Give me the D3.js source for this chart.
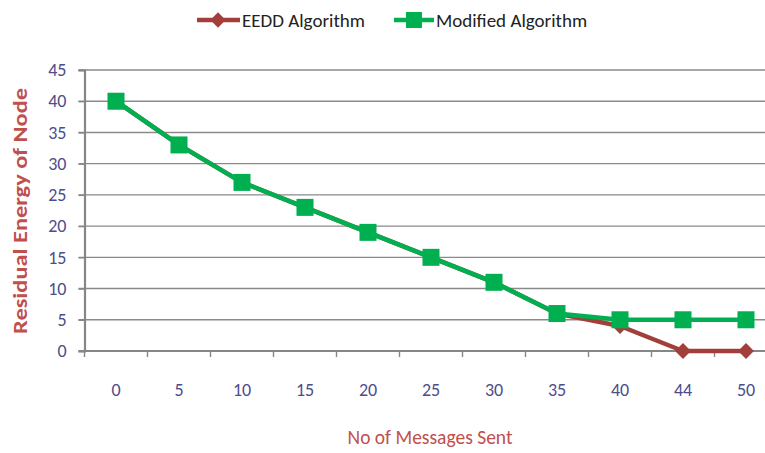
<!DOCTYPE html>
<html>
<head>
<meta charset="utf-8">
<script src="https://cdn.jsdelivr.net/npm/d3@7"></script>
<style>
  body { margin: 0; background: #fff; }
  text { font-family: Carlito, "Liberation Sans Narrow", Lato, sans-serif; }
</style>
</head>
<body>
<script>
const categories = ["0", "5", "10", "15", "20", "25", "30", "35", "40", "44", "50"];
const eeddValues = [40, 33, 27, 23, 19, 15, 11, 6, 4, 0, 0];
const modifiedValues = [40, 33, 27, 23, 19, 15, 11, 6, 5, 5, 5];
const yTicks = [0, 5, 10, 15, 20, 25, 30, 35, 40, 45];

const width = 765, height = 453;
const plot = {left: 84.5, right: 777.5, top: 70, bottom: 351};

const svg = d3.select("body")
  .append("svg")
    .attr("width", width)
    .attr("height", height);

const x = d3.scaleBand()
    .domain(categories)
    .range([plot.left, plot.right])
    .padding(0);

const y = d3.scaleLinear()
    .domain([0, 45])
    .range([plot.bottom, plot.top]);

// gridlines
svg.append("g")
  .selectAll("line")
  .data(yTicks.filter(d => d > 0))
  .enter()
  .append("line")
    .attr("x1", plot.left - 6)
    .attr("x2", width)
    .attr("y1", d => y(d))
    .attr("y2", d => y(d))
    .attr("stroke", "#8a8a8a")
    .attr("stroke-width", 1.4);

// y axis
const yAxis = svg.append("g")
    .attr("transform", "translate(" + plot.left + ",0)")
    .call(d3.axisLeft(y).tickValues(yTicks).tickSize(6).tickPadding(12));
yAxis.select(".domain").attr("stroke", "#868686").attr("stroke-width", 2.2);
yAxis.selectAll(".tick line").attr("stroke", "#868686").attr("stroke-width", 1.4);
yAxis.selectAll(".tick text")
    .attr("fill", "#4d4d8a")
    .style("font-size", "18px");

// x axis, ticks between categories
const xAxis = svg.append("g")
    .attr("transform", "translate(0," + plot.bottom + ")");
xAxis.append("line")
    .attr("x1", plot.left - 6)
    .attr("x2", width)
    .attr("stroke", "#868686")
    .attr("stroke-width", 2.2);
xAxis.selectAll("line.tk")
  .data(categories)
  .enter()
  .append("line")
    .attr("class", "tk")
    .attr("x1", d => x(d))
    .attr("x2", d => x(d))
    .attr("y1", 0)
    .attr("y2", 6)
    .attr("stroke", "#868686")
    .attr("stroke-width", 1.4);
xAxis.selectAll("text")
  .data(categories)
  .enter()
  .append("text")
    .attr("x", d => x(d) + x.bandwidth() / 2)
    .attr("y", 45)
    .attr("text-anchor", "middle")
    .attr("fill", "#4d4d8a")
    .style("font-size", "18px")
    .text(d => d);

const cx = d => x(d) + x.bandwidth() / 2;
const line = d3.line()
    .x((d, i) => cx(categories[i]))
    .y(d => y(d));

const red = "#a23f3b", green = "#00b050";

// EEDD series
svg.append("path")
    .datum(eeddValues)
    .attr("fill", "none")
    .attr("stroke", red)
    .attr("stroke-width", 4.5)
    .attr("stroke-linejoin", "round")
    .attr("d", line);
svg.append("g")
  .selectAll("path")
  .data(eeddValues)
  .enter()
  .append("path")
    .attr("transform", (d, i) => "translate(" + cx(categories[i]) + "," + y(d) + ")")
    .attr("d", d3.symbol().type(d3.symbolDiamond2).size(160))
    .attr("fill", red);

// Modified series
svg.append("path")
    .datum(modifiedValues)
    .attr("fill", "none")
    .attr("stroke", green)
    .attr("stroke-width", 4.5)
    .attr("stroke-linejoin", "round")
    .attr("d", line);
svg.append("g")
  .selectAll("rect")
  .data(modifiedValues)
  .enter()
  .append("rect")
    .attr("x", (d, i) => cx(categories[i]) - 8.5)
    .attr("y", d => y(d) - 8.5)
    .attr("width", 17)
    .attr("height", 17)
    .attr("fill", green);

// legend
const legend = svg.append("g");
legend.append("line")
    .attr("x1", 197).attr("x2", 240).attr("y1", 20).attr("y2", 20)
    .attr("stroke", red).attr("stroke-width", 4.5);
legend.append("path")
    .attr("transform", "translate(218,20)")
    .attr("d", d3.symbol().type(d3.symbolDiamond2).size(150))
    .attr("fill", red);
legend.append("text")
    .attr("x", 242).attr("y", 27)
    .attr("fill", "#222")
    .style("font-size", "19px")
    .text("EEDD Algorithm");
legend.append("line")
    .attr("x1", 394).attr("x2", 434).attr("y1", 20).attr("y2", 20)
    .attr("stroke", green).attr("stroke-width", 4.5);
legend.append("rect")
    .attr("x", 406).attr("y", 12).attr("width", 16).attr("height", 16)
    .attr("fill", green);
legend.append("text")
    .attr("x", 436).attr("y", 27)
    .attr("fill", "#222")
    .style("font-size", "19px")
    .text("Modified Algorithm");

// axis titles
svg.append("text")
    .attr("transform", "translate(27,211) rotate(-90)")
    .attr("text-anchor", "middle")
    .attr("fill", "#c0504d")
    .attr("textLength", 246)
    .attr("lengthAdjust", "spacingAndGlyphs")
    .style("font-size", "20px")
    .style("font-weight", "bold")
    .text("Residual Energy of Node");

svg.append("text")
    .attr("x", 430)
    .attr("y", 444)
    .attr("text-anchor", "middle")
    .attr("fill", "#c0504d")
    .style("font-size", "19.5px")
    .text("No of Messages Sent");
</script>
</body>
</html>
